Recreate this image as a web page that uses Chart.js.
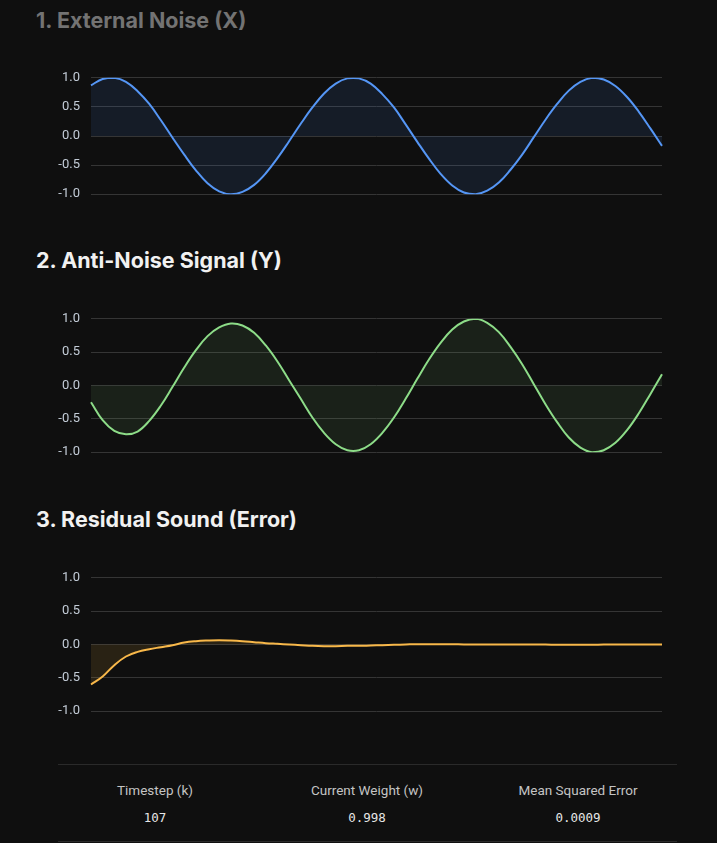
<!DOCTYPE html>
<html>
<head>
<meta charset="utf-8">
<script src="https://cdn.jsdelivr.net/npm/chart.js@4.4.1/dist/chart.umd.min.js"></script>
<style>
  html, body { margin: 0; padding: 0; background: #0f0f0f; }
  body { width: 717px; height: 843px; position: relative; overflow: hidden; font-family: "Inter", "Roboto", sans-serif; }
  .title { position: absolute; left: 36px; font-size: 21.5px; font-weight: 700; line-height: 24px; color: #f1f1f1; white-space: nowrap; }
  .title.faded { color: #737373; }
  .chart-box { position: absolute; left: 36px; width: 645px; }
  .stats { position: absolute; left: 58px; width: 619px; top: 764px; height: 76px; border-top: 1px solid #2a2a2a; border-bottom: 1px solid #2a2a2a; }
  .stat { position: absolute; width: 200px; margin-left: -100px; text-align: center; }
  .stat .label { position: absolute; top: 17px; width: 100%; font-family: "Roboto", sans-serif; font-size: 13.5px; color: #c4c4c4; line-height: 16px; }
  .stat .value { position: absolute; top: 45px; width: 100%; font-family: "DejaVu Sans Mono", monospace; font-size: 12.5px; color: #e6e6e6; line-height: 16px; }
</style>
</head>
<body>
  <div class="title faded" style="top:8px">1. External Noise (X)</div>
  <div class="chart-box" style="top:59px;height:154px"><canvas id="noiseChart"></canvas></div>

  <div class="title" style="top:248px">2. Anti-Noise Signal (Y)</div>
  <div class="chart-box" style="top:300px;height:171px"><canvas id="antiChart"></canvas></div>

  <div class="title" style="top:507px">3. Residual Sound (Error)</div>
  <div class="chart-box" style="top:559px;height:171px"><canvas id="errorChart"></canvas></div>

  <div class="stats">
    <div class="stat" style="left:97px"><div class="label">Timestep (k)</div><div class="value" id="statK"></div></div>
    <div class="stat" style="left:309px"><div class="label">Current Weight (w)</div><div class="value" id="statW"></div></div>
    <div class="stat" style="left:520px"><div class="label">Mean Squared Error</div><div class="value" id="statMse"></div></div>
  </div>

<script>
// Window of the last 50 timesteps
const timesteps = [58, 59, 60, 61, 62, 63, 64, 65, 66, 67, 68, 69, 70, 71, 72, 73, 74, 75, 76, 77,
  78, 79, 80, 81, 82, 83, 84, 85, 86, 87, 88, 89, 90, 91, 92, 93, 94, 95, 96, 97,
  98, 99, 100, 101, 102, 103, 104, 105, 106, 107];

// External noise x(k)
const noiseX = [0.87, 0.98, 1.00, 0.93, 0.77, 0.55, 0.27, -0.03, -0.32, -0.59,
  -0.81, -0.95, -1.00, -0.96, -0.84, -0.64, -0.38, -0.09, 0.21, 0.49,
  0.73, 0.90, 0.99, 0.99, 0.90, 0.72, 0.49, 0.20, -0.10, -0.39,
  -0.65, -0.85, -0.97, -1.00, -0.94, -0.80, -0.58, -0.32, -0.02, 0.28,
  0.55, 0.78, 0.93, 1.00, 0.97, 0.86, 0.67, 0.42, 0.13, -0.17];

// Anti-noise y(k)
const antiY = [-0.25, -0.52, -0.68, -0.73, -0.69, -0.53, -0.30, -0.02, 0.27, 0.53,
  0.74, 0.87, 0.93, 0.90, 0.79, 0.60, 0.36, 0.08, -0.20, -0.48,
  -0.71, -0.88, -0.97, -0.97, -0.88, -0.71, -0.48, -0.20, 0.10, 0.39,
  0.64, 0.84, 0.96, 1.00, 0.94, 0.80, 0.58, 0.32, 0.02, -0.28,
  -0.55, -0.78, -0.93, -1.00, -0.97, -0.86, -0.67, -0.42, -0.13, 0.17];

// Residual error e(k)
const errorE = [-0.60, -0.48, -0.31, -0.18, -0.11, -0.07, -0.04, -0.01, 0.03, 0.05,
  0.06, 0.065, 0.06, 0.05, 0.035, 0.02, 0.01, 0.0, -0.01, -0.02,
  -0.025, -0.025, -0.02, -0.02, -0.015, -0.01, -0.005, 0.0, 0.005, 0.005,
  0.005, 0.005, 0.0, 0.0, 0.0, 0.0, 0.0, 0.0, 0.0, 0.0,
  -0.005, -0.005, -0.005, -0.005, 0.0, 0.0, 0.0, 0.0, 0.0, 0.0];

const yTicks = [-1.0, -0.5, 0.0, 0.5, 1.0];

const stats = { k: '107', w: '0.998', mse: '0.0009' };

document.addEventListener("DOMContentLoaded", function () {
  document.getElementById('statK').textContent = stats.k;
  document.getElementById('statW').textContent = stats.w;
  document.getElementById('statMse').textContent = stats.mse;

  function makeChart(id, values, lineColor, fillColor) {
    return new Chart(document.getElementById(id), {
      type: 'line',
      data: {
        labels: timesteps,
        datasets: [{
          data: values,
          borderColor: lineColor,
          backgroundColor: fillColor,
          borderWidth: 2,
          fill: 'origin',
          tension: 0.4,
          pointRadius: 0
        }]
      },
      options: {
        responsive: true,
        maintainAspectRatio: false,
        animation: false,
        // the tick labels add their own half height above and below
        layout: { padding: { top: 2, bottom: 2, left: 0, right: 19 } },
        plugins: {
          legend: { display: false },
          tooltip: { enabled: false }
        },
        scales: {
          x: { display: false },
          y: {
            min: -1,
            max: 1,
            afterBuildTicks: function (scale) {
              scale.ticks = yTicks.map(v => ({ value: v }));
            },
            afterFit: function (scale) { scale.width = 55; },
            border: { display: false },
            grid: { color: '#353535', drawTicks: false, lineWidth: 1 },
            ticks: {
              color: '#c3ccd7',
              padding: 11,
              font: { family: 'Roboto', size: 13 },
              callback: v => v.toFixed(1)
            }
          }
        }
      }
    });
  }

  makeChart('noiseChart', noiseX, '#5596f5', 'rgba(77, 144, 254, 0.10)');
  makeChart('antiChart', antiY, '#8ddc88', 'rgba(129, 201, 120, 0.10)');
  makeChart('errorChart', errorE, '#f8b84a', 'rgba(251, 188, 60, 0.11)');
});
</script>
</body>
</html>
